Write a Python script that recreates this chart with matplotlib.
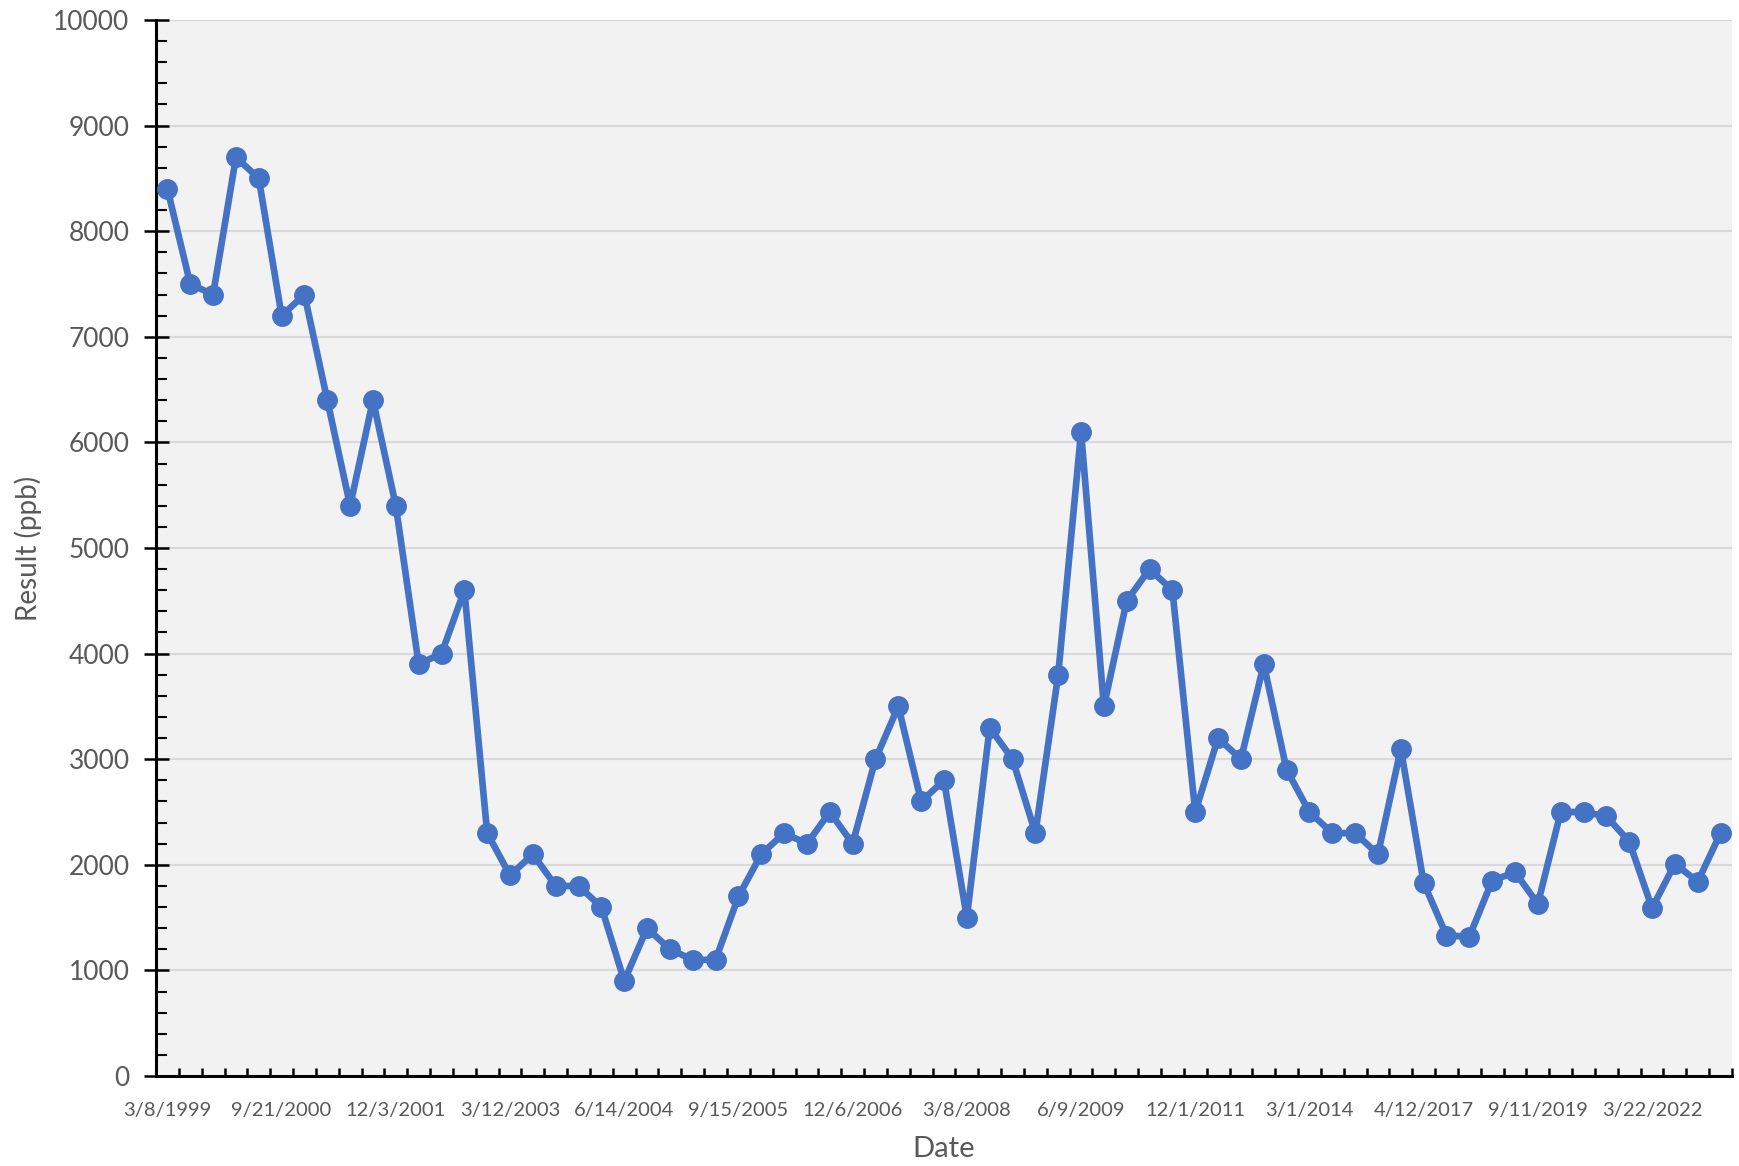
import matplotlib.pyplot as plt
from matplotlib.ticker import MultipleLocator, FixedLocator

plt.rcParams['font.family'] = ['Lato', 'DejaVu Sans']

# sample dates every 5th category (only these are labelled)
tick_labels = ['3/8/1999', '9/21/2000', '12/3/2001', '3/12/2003', '6/14/2004',
               '9/15/2005', '12/6/2006', '3/8/2008', '6/9/2009', '12/1/2011',
               '3/1/2014', '4/12/2017', '9/11/2019', '3/22/2022']

result_ppb = [8400, 7500, 7400, 8700, 8500, 7200, 7400, 6400, 5400, 6400,
              5400, 3900, 4000, 4600, 2300, 1900, 2100, 1800, 1800, 1600,
              900, 1400, 1200, 1100, 1100, 1700, 2100, 2300, 2200, 2500,
              2200, 3000, 3500, 2600, 2800, 1500, 3300, 3000, 2300, 3800,
              6100, 3500, 4500, 4800, 4600, 2500, 3200, 3000, 3900, 2900,
              2500, 2300, 2300, 2100, 3100, 1830, 1330, 1320, 1850, 1930,
              1630, 2500, 2500, 2460, 2220, 1590, 2010, 1840, 2300]

n = len(result_ppb)
x = list(range(n))

fig = plt.figure(figsize=(17.39, 11.66), dpi=100)
ax = fig.add_axes([156 / 1739, 1 - 1076 / 1166, (1732 - 156) / 1739, (1076 - 20) / 1166])
ax.set_facecolor('#F2F2F2')

ax.plot(x, result_ppb, color='#4472C4', linewidth=4.8, marker='o',
        markersize=14, zorder=3)

ax.set_xlim(-0.5, n - 0.5)
ax.set_ylim(0, 10000)

ax.yaxis.set_major_locator(MultipleLocator(1000))
ax.yaxis.set_minor_locator(MultipleLocator(200))
ax.grid(axis='y', which='major', color='#D9D9D9', linewidth=1.5, zorder=0)
ax.set_axisbelow(True)

# category ticks sit on the boundaries, labels at every 5th point
ax.xaxis.set_major_locator(FixedLocator([i + 0.5 for i in range(-1, n)]))
ax.set_xticklabels([])
ax.xaxis.set_minor_locator(FixedLocator(list(range(0, n, 5))))
ax.set_xticklabels(tick_labels, minor=True)
ax.tick_params(axis='x', which='major', direction='in', length=6, width=1.8, color='black')
ax.tick_params(axis='x', which='minor', length=0, pad=19, labelsize=14.5, labelcolor='#595959')
ax.tick_params(axis='y', which='major', direction='inout', length=18, width=1.8,
               labelsize=19, labelcolor='#595959', pad=10)
ax.tick_params(axis='y', which='minor', direction='in', length=8, width=1.5)

for side in ['top', 'right']:
    ax.spines[side].set_visible(False)
for side in ['left', 'bottom']:
    ax.spines[side].set_linewidth(2.2)

ax.set_xlabel('Date', fontsize=21, color='#595959', labelpad=12)
ax.set_ylabel('Result (ppb)', fontsize=20, color='#595959', labelpad=8)

plt.savefig('out.png', dpi=100)
